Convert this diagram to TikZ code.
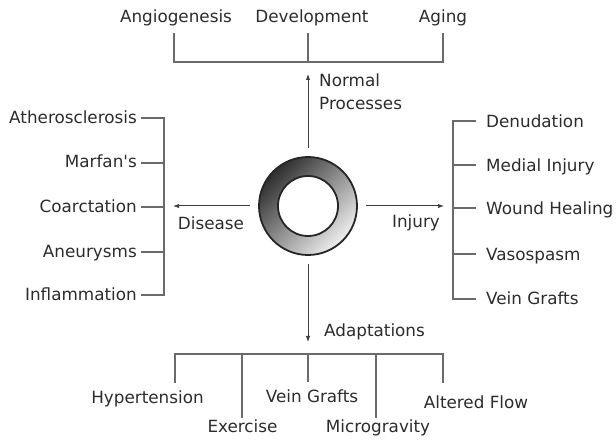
\documentclass[tikz,border=0pt]{standalone}
\usepackage{fontspec}
\setmainfont{DejaVu Sans}[Ligatures=TeXOff]
\usetikzlibrary{arrows.meta}
\definecolor{txt}{HTML}{2c2c2c}
\definecolor{lin}{HTML}{6a6a6a}
\begin{document}
\begin{tikzpicture}[x=1pt,y=-1pt,
  lbl/.style={font=\fontsize{16.8}{20}\selectfont, text=txt, inner sep=0pt},
  ln/.style={draw=lin, line width=1.3pt},
  arr/.style={draw=black!75, line width=1pt, -{Latex[length=6pt,width=4.5pt]}},
  ringline/.style={circle, draw=black!85, line width=1.8pt, inner sep=0pt}
]
\useasboundingbox (0,0) rectangle (616,443);

% central vessel ring
\coordinate (c) at (308,206);
\shade[even odd rule, top color=black!82, bottom color=black!6, shading angle=45]
  (c) circle[radius=49pt] (c) circle[radius=30pt];
\node[ringline, minimum size=98pt] (ring) at (c) {};
\node[ringline, minimum size=60pt, fill=white] (lumen) at (c) {};

% ---------- top: normal processes ----------
\node[lbl, anchor=base, text depth=4pt, inner ysep=6pt] (ang) at (176,23) {Angiogenesis};
\node[lbl, anchor=base, text depth=4pt, inner ysep=6pt] (dev) at (312,23) {Development};
\node[lbl, anchor=base, text depth=4pt, inner ysep=6pt] (agi) at (443,23) {Aging};
\coordinate (ta) at (174,62);
\coordinate (tb) at (308,62);
\coordinate (tc) at (443,62);
\draw[ln] (ta |- ang.south) -- (ta) -- (tc) -- (tc |- agi.south);
\draw[ln] (tb |- dev.south) -- (tb);
\draw[arr, shorten <=8pt, shorten >=12pt] (ring) -- (tb);
\node[lbl, anchor=base west] (np1) at (319,87) {Normal};
\node[lbl, anchor=base west] (np2) at (319,110) {Processes};

% ---------- left: disease ----------
\node[lbl, anchor=base east, inner xsep=4pt] (ath) at (141,124) {Atherosclerosis};
\node[lbl, anchor=base east, inner xsep=4pt] (mar) at (141,168) {Marfan's};
\node[lbl, anchor=base east, inner xsep=4pt] (coa) at (141,213) {Coarctation};
\node[lbl, anchor=base east, inner xsep=4pt] (ane) at (141,258) {Aneurysms};
\node[lbl, anchor=base east, inner xsep=4pt] (inf) at (141,301) {Inflammation};
\coordinate (la) at (164,118);
\coordinate (lb) at (164,163);
\coordinate (lc) at (164,207);
\coordinate (ld) at (164,252);
\coordinate (le) at (164,295);
\draw[ln] (ath.east |- la) -- (la) -- (le) -- (inf.east |- le);
\draw[ln] (mar.east |- lb) -- (lb);
\draw[ln] (coa.east |- lc) -- (lc);
\draw[ln] (ane.east |- ld) -- (ld);
\draw[arr, shorten <=8pt, shorten >=9pt] (ring) -- (ring -| lc);
\node[lbl, anchor=base] (dis) at (211,230) {Disease};

% ---------- right: injury ----------
\node[lbl, anchor=base west, inner xsep=10pt] (den) at (476,128) {Denudation};
\node[lbl, anchor=base west, inner xsep=10pt] (med) at (476,172) {Medial Injury};
\node[lbl, anchor=base west, inner xsep=10pt] (wou) at (476,215) {Wound Healing};
\node[lbl, anchor=base west, inner xsep=10pt] (vas) at (476,261) {Vasospasm};
\node[lbl, anchor=base west, inner xsep=10pt] (vgr) at (476,305) {Vein Grafts};
\coordinate (ra) at (453,121);
\coordinate (rb) at (453,165);
\coordinate (rc) at (453,208);
\coordinate (rd) at (453,254);
\coordinate (re) at (453,299);
\draw[ln] (den.west |- ra) -- (ra) -- (re) -- (vgr.west |- re);
\draw[ln] (med.west |- rb) -- (rb);
\draw[ln] (wou.west |- rc) -- (rc);
\draw[ln] (vas.west |- rd) -- (rd);
\draw[arr, shorten <=8pt, shorten >=9pt] (ring) -- (ring -| rc);
\node[lbl, anchor=base] (inj) at (416,228) {Injury};

% ---------- bottom: adaptations ----------
\node[lbl, anchor=base, text height=12pt, inner ysep=9pt] (hyp) at (147.5,404) {Hypertension};
\node[lbl, anchor=base, text height=12pt, inner ysep=3pt] (exe) at (242.5,433) {Exercise};
\node[lbl, anchor=base, text height=12pt, inner ysep=9pt] (vei) at (312,403) {Vein Grafts};
\node[lbl, anchor=base, text height=12pt, inner ysep=3pt] (mic) at (378,433) {Microgravity};
\node[lbl, anchor=base, text height=12pt, inner ysep=14pt] (alt) at (476,409) {Altered Flow};
\coordinate (ba) at (175,354);
\coordinate (bb) at (242,354);
\coordinate (bc) at (308,354);
\coordinate (bd) at (376,354);
\coordinate (be) at (443,354);
\draw[ln] (ba |- hyp.north) -- (ba) -- (be) -- (be |- alt.north);
\draw[ln] (bb) -- (bb |- exe.north);
\draw[ln] (bc) -- (bc |- vei.north);
\draw[ln] (bd) -- (bd |- mic.north);
\draw[arr, shorten <=8pt, shorten >=12pt] (ring) -- (bc);
\node[lbl, anchor=base west] (ada) at (324,337) {Adaptations};
\end{tikzpicture}
\end{document}
